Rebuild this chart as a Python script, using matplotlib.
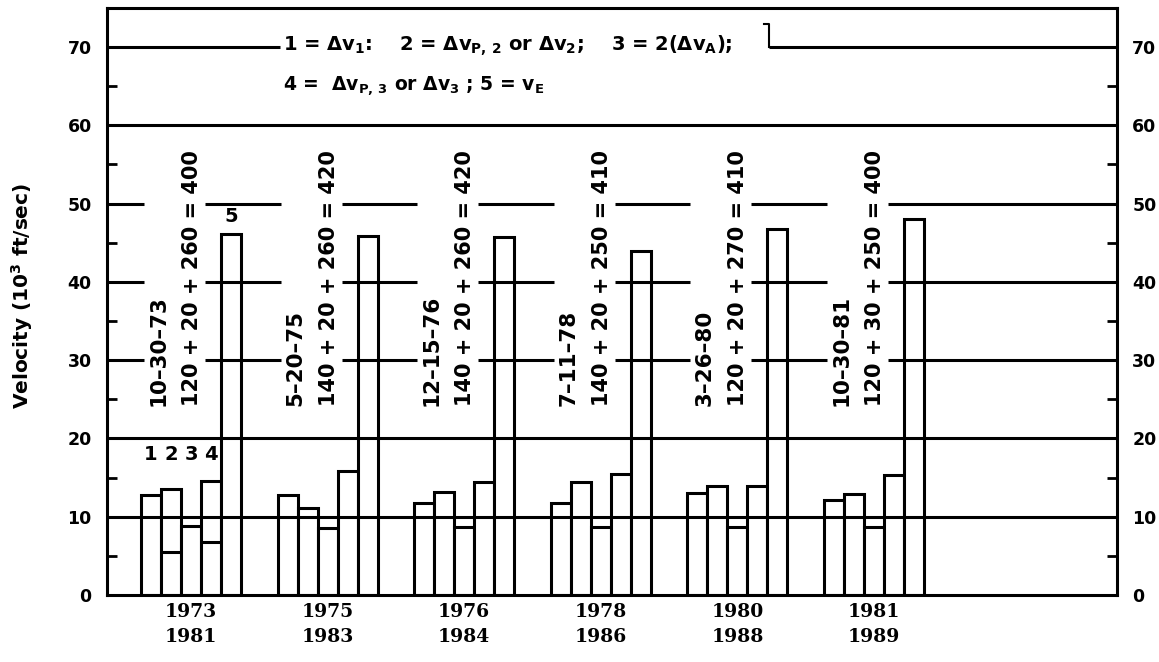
import matplotlib.pyplot as plt
import numpy as np

plt.rcParams['font.family'] = ['DejaVu Sans']
plt.rcParams['font.weight'] = 'bold'
plt.rcParams['mathtext.default'] = 'bf'

# launch opportunities, first and repeat year
years_a = ['1973', '1975', '1976', '1978', '1980', '1981']
years_b = ['1981', '1983', '1984', '1986', '1988', '1989']
dates = ['10–30–73', '5–20–75', '12–15–76', '7–11–78', '3–26–80', '10–30–81']
sums = ['120 + 20 + 260 = 400', '140 + 20 + 260 = 420', '140 + 20 + 260 = 420',
        '140 + 20 + 250 = 410', '120 + 20 + 270 = 410', '120 + 30 + 250 = 400']

# velocities, 10^3 ft/sec
dv1 = [12.8, 12.8, 11.7, 11.7, 13.0, 12.2]
dv2 = [13.6, 11.1, 13.2, 14.4, 13.9, 12.9]
dva2 = [8.8, 8.6, 8.7, 8.7, 8.7, 8.7]
dv3 = [14.6, 15.8, 14.5, 15.4, 13.9, 15.3]
ve = [46.1, 45.9, 45.7, 44.0, 46.7, 48.1]
# alternative values marked inside bars 2 and 4
dv2_alt = [5.5, np.nan, np.nan, np.nan, np.nan, np.nan]
dv3_alt = [6.8, np.nan, np.nan, np.nan, np.nan, np.nan]

grid_full = [10, 20, 60]
grid_split = [30, 40, 50]

lw = 2.2
x0, step, xmax = 1.7, 6.83, 50.5
starts = x0 + step * np.arange(len(years_a))

fig = plt.figure(figsize=(11.59, 6.62), dpi=100)
ax = fig.add_axes([0.0923, 0.1012, 0.8715, 0.8868])
ax.set_xlim(0, xmax)
ax.set_ylim(0, 75)

series = [dv1, dv2, dva2, dv3, ve]
for j, vals in enumerate(series):
    ax.bar(starts + j, vals, width=1, align='edge', facecolor='white',
           edgecolor='black', linewidth=lw, zorder=2)

for alt, j in [(dv2_alt, 1), (dv3_alt, 3)]:
    for s, v in zip(starts, alt):
        if not np.isnan(v):
            ax.hlines(v, s + j, s + j + 1, color='black', lw=lw, zorder=3)

# gridlines
for g in grid_full:
    ax.hlines(g, 0, xmax, color='black', lw=lw, zorder=3)
edges = [0]
for s in starts:
    edges += [s + 0.15, s + 3.2]
edges.append(xmax)
for g in grid_split:
    for a, b in zip(edges[::2], edges[1::2]):
        ax.hlines(g, a, b, color='black', lw=lw, zorder=3)

# 70 line broken by the key
ax.hlines(70, 0, 8.65, color='black', lw=lw, zorder=3)
ax.hlines(70, 33.1, xmax, color='black', lw=lw, zorder=3)
ax.plot([32.85, 33.1, 33.1], [72.9, 72.9, 70], color='black', lw=1.5, zorder=3)

ax.text(8.8, 70.1, r'1 = Δv$_1$:    2 = Δv$_{P,\,2}$ or Δv$_2$;    3 = 2(Δv$_A$);',
        fontsize=14, va='center', ha='left')
ax.text(8.8, 65.0, r'4 =  Δv$_{P,\,3}$ or Δv$_3$ ; 5 = v$_E$',
        fontsize=13.5, va='center', ha='left')

# rotated date / sum labels
for s, d, t in zip(starts, dates, sums):
    ax.text(s + 0.88, 24.2, d, rotation=90, ha='center', va='bottom', fontsize=15.5)
    ax.text(s + 2.55, 24.2, t, rotation=90, ha='center', va='bottom', fontsize=15)

# bar numbers on the first group
for j, n in enumerate(['1', '2', '3', '4']):
    ax.text(starts[0] + j + 0.5, 17.9, n, ha='center', va='center', fontsize=14)
ax.text(starts[0] + 4.5, 48.3, '5', ha='center', va='center', fontsize=14)

# axes
for sp in ax.spines.values():
    sp.set_linewidth(lw)
ax.set_xticks(starts + 2.5)
ax.set_xticklabels([f'{a}\n{b}' for a, b in zip(years_a, years_b)],
                   family='DejaVu Serif', fontsize=13.5, linespacing=1.45)
ax.tick_params(axis='x', length=0, pad=6)
ax.set_yticks(np.arange(0, 71, 10))
ax.set_yticks(np.arange(5, 70, 10), minor=True)
ax.tick_params(axis='y', which='major', length=0, labelsize=12.5, pad=11,
               left=True, right=True, labelleft=True, labelright=True)
ax.tick_params(axis='y', which='minor', direction='in', length=7, width=2,
               left=True, right=True)

fig.text(22 / 1159, 1 - 296 / 662, r'Velocity (10$^3$ ft/sec)', rotation=90,
         ha='center', va='center', fontsize=14.5)

fig.savefig('out.png', dpi=100)
